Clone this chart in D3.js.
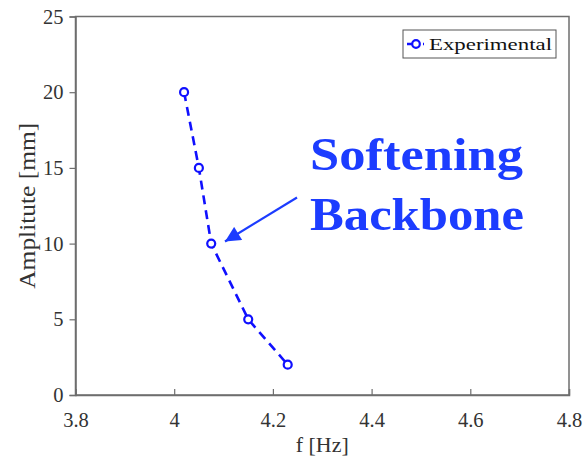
<!DOCTYPE html>
<html>
<head>
<meta charset="utf-8">
<script src="https://cdn.jsdelivr.net/npm/d3@7"></script>
<style>
  html, body { margin: 0; padding: 0; background: #fff; }
  svg { display: block; }
  svg text { font-family: "Liberation Serif", serif; }
</style>
</head>
<body>
<svg id="chart" width="583" height="461"></svg>
<script>
// Backbone measurement: frequency [Hz] vs amplitude [mm]
const freqHz = [4.02, 4.05, 4.075, 4.15, 4.23];
const amplitudeMm = [20, 15, 10, 5, 2];
const xTicks = [3.8, 4.0, 4.2, 4.4, 4.6, 4.8];
const yTicks = [0, 5, 10, 15, 20, 25];
const seriesName = "Experimental";

const W = 583, H = 461;
const margin = { left: 75.5, right: 14, top: 16.5, bottom: 66 };
const svg = d3.select("#chart");
const font = "Liberation Serif";
const axisCol = "#6e6e6e";
const textCol = "#333";
const blue = "#1010ff";

const x = d3.scaleLinear().domain([3.8, 4.8]).range([margin.left, W - margin.right]);
const y = d3.scaleLinear().domain([0, 25]).range([H - margin.bottom, margin.top]);

// frame
svg.append("rect")
  .attr("x", x(3.8)).attr("y", y(25))
  .attr("width", x(4.8) - x(3.8)).attr("height", y(0) - y(25))
  .attr("fill", "none").attr("stroke", axisCol).attr("stroke-width", 1.5);

const fmtX = d => (d === 4 ? "4" : d3.format(".1f")(d));

const gx = svg.append("g").attr("transform", `translate(0,${y(0)})`)
  .call(d3.axisBottom(x).tickValues(xTicks).tickFormat(fmtX).tickSize(-6).tickPadding(17));
const gy = svg.append("g").attr("transform", `translate(${x(3.8)},0)`)
  .call(d3.axisLeft(y).tickValues(yTicks).tickSize(6).tickPadding(6));

[gx, gy].forEach(g => {
  g.attr("font-family", font);
  g.select(".domain").attr("stroke", axisCol).attr("stroke-width", 1.5);
  g.selectAll(".tick line").attr("stroke", axisCol).attr("stroke-width", 1.2);
  g.selectAll(".tick text").attr("fill", textCol)
    .attr("font-family", font).attr("font-size", 20.5);
});
// y ticks point outward only (left of axis), x ticks point inward
gy.selectAll(".tick line").attr("x2", -6);

// axis titles
svg.append("text")
  .attr("x", (x(3.8) + x(4.8)) / 2).attr("y", 452)
  .attr("text-anchor", "middle").attr("fill", textCol)
  .attr("font-family", font).attr("font-size", 22)
  .attr("textLength", 53).attr("lengthAdjust", "spacingAndGlyphs")
  .text("f [Hz]");
svg.append("text")
  .attr("transform", `translate(35,${(y(0) + y(25)) / 2}) rotate(-90)`)
  .attr("text-anchor", "middle").attr("fill", textCol)
  .attr("font-family", font).attr("font-size", 23)
  .attr("textLength", 166).attr("lengthAdjust", "spacingAndGlyphs")
  .text("Amplitute [mm]");

// series
const pts = freqHz.map((f, i) => [f, amplitudeMm[i]]);
svg.append("path")
  .datum(pts)
  .attr("d", d3.line().x(d => x(d[0])).y(d => y(d[1])))
  .attr("fill", "none").attr("stroke", blue)
  .attr("stroke-width", 2.6).attr("stroke-dasharray", "9,6");
svg.append("g").selectAll("circle").data(pts).join("circle")
  .attr("cx", d => x(d[0])).attr("cy", d => y(d[1])).attr("r", 4)
  .attr("fill", "#fff").attr("stroke", blue).attr("stroke-width", 2.2);

// legend
const lg = svg.append("g");
lg.append("rect").attr("x", 403).attr("y", 30).attr("width", 153).attr("height", 28)
  .attr("fill", "#fff").attr("stroke", "#555").attr("stroke-width", 1);
lg.append("line").attr("x1", 407).attr("x2", 424).attr("y1", 44).attr("y2", 44)
  .attr("stroke", blue).attr("stroke-width", 2.6).attr("stroke-dasharray", "5,3");
lg.append("circle").attr("cx", 416).attr("cy", 44).attr("r", 3.8)
  .attr("fill", "#fff").attr("stroke", blue).attr("stroke-width", 2.2);
lg.append("text").attr("x", 429).attr("y", 50)
  .attr("fill", "#111").attr("font-family", font).attr("font-size", 17)
  .attr("textLength", 123).attr("lengthAdjust", "spacingAndGlyphs")
  .text(seriesName);

// annotation
const annCol = "#1c3cff";
const defs = svg.append("defs");
defs.append("marker").attr("id", "arrowhead")
  .attr("viewBox", "0 0 10 10").attr("refX", 10).attr("refY", 5)
  .attr("markerWidth", 8).attr("markerHeight", 7)
  .attr("markerUnits", "strokeWidth").attr("orient", "auto")
  .append("path").attr("d", "M0,0 L10,5 L0,10 Z").attr("fill", annCol);
svg.append("line")
  .attr("x1", 297).attr("y1", 197.5).attr("x2", 225).attr("y2", 241.5)
  .attr("stroke", annCol).attr("stroke-width", 2.2).attr("marker-end", "url(#arrowhead)");

svg.append("text").attr("x", 310).attr("y", 170)
  .attr("fill", annCol).attr("font-family", font).attr("font-weight", "bold")
  .attr("font-size", 47).attr("textLength", 213).attr("lengthAdjust", "spacingAndGlyphs")
  .text("Softening");
svg.append("text").attr("x", 310).attr("y", 230)
  .attr("fill", annCol).attr("font-family", font).attr("font-weight", "bold")
  .attr("font-size", 47).attr("textLength", 214).attr("lengthAdjust", "spacingAndGlyphs")
  .text("Backbone");
</script>
</body>
</html>
